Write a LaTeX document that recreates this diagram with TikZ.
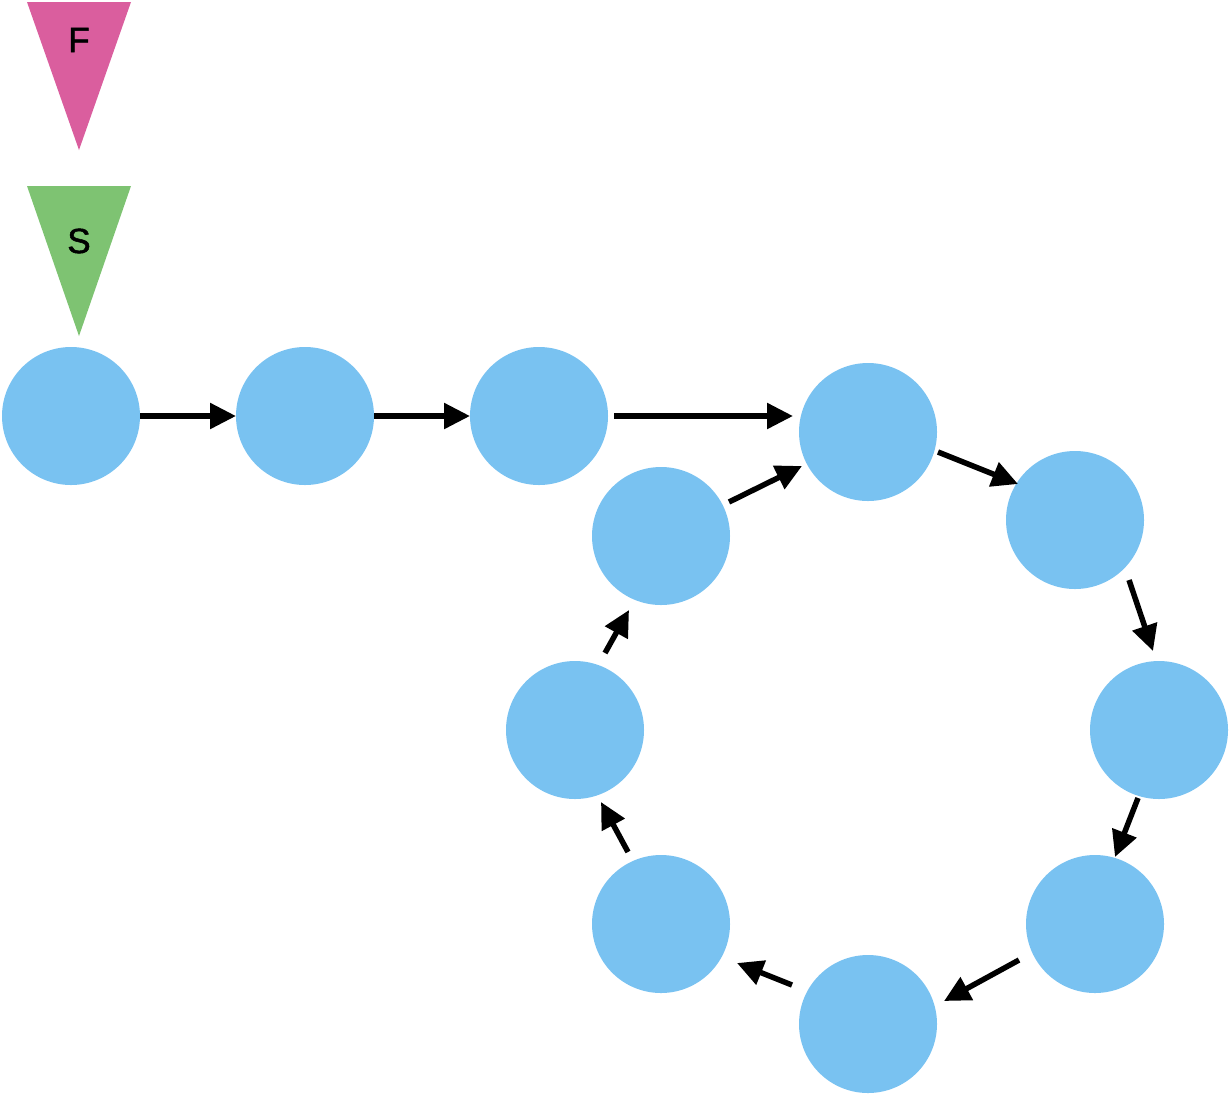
\documentclass[tikz,border=0pt]{standalone}
\usepackage{fontspec}
\setmainfont{Liberation Sans}
\newfontfamily\lblfont[FakeBold=1.5]{Liberation Sans}
\usetikzlibrary{arrows.meta,calc}
\definecolor{nodeblue}{HTML}{79C2F1}
\definecolor{fpink}{HTML}{DA5E9E}
\definecolor{sgreen}{HTML}{7EC372}
\tikzset{
  ball/.style={circle, fill=nodeblue, draw=none, minimum size=138pt, inner sep=0pt, outer sep=0pt},
  arr/.style={line width=5.5pt, -{Triangle[length=26pt,width=25pt]}},
  tlabel/.style={font=\lblfont\fontsize{35}{37}\selectfont, inner sep=0pt}
}
\begin{document}
\begin{tikzpicture}[x=1pt,y=-1pt]
\useasboundingbox (0,0) rectangle (1230,1096);
% triangles
\fill[fpink] (27,2) -- (131,2) -- (79,150) -- cycle;
\fill[sgreen] (27,186) -- (131,186) -- (79,336) -- cycle;
\node[tlabel] (F) at (79,40) {F};
\node[tlabel] (S) at (79,241) {S};
% nodes
\node[ball] (A) at (71,416) {};
\node[ball] (B) at (305,416) {};
\node[ball] (C) at (539,416) {};
\node[ball] (D) at (868,432) {};
\node[ball] (E) at (1075,520) {};
\node[ball] (G) at (1159,730) {};
\node[ball] (H) at (1095,924) {};
\node[ball] (I) at (868,1024) {};
\node[ball] (J) at (661,924) {};
\node[ball] (K) at (575,730) {};
\node[ball] (L) at (661,536) {};
% connectors
\draw[arr] (A.east) -- (B.west);
\draw[arr] (B.east) -- (C.west);
\draw[arr] ($(C)+(75,0)$) -- ($(D)+(-75,-16)$);
\draw[arr] ($(L)+(68,-34)$) -- ($(D)+(-66,34)$);
\draw[arr] ($(D)+(70,20)$) -- ($(E)+(-57,-36)$);
\draw[arr] ($(E)+(54,60)$) -- ($(G)+(-6,-79)$);
\draw[arr] ($(G)+(-21,68)$) -- ($(H)+(20,-67)$);
\draw[arr] ($(H)+(-76,36)$) -- ($(I)+(76,-23)$);
\draw[arr] ($(I)+(-76,-39)$) -- ($(J)+(76,39)$);
\draw[arr] ($(J)+(-33,-72)$) -- ($(K)+(26,72)$);
\draw[arr] ($(K)+(30,-77)$) -- ($(L)+(-32,74)$);
\end{tikzpicture}
\end{document}
